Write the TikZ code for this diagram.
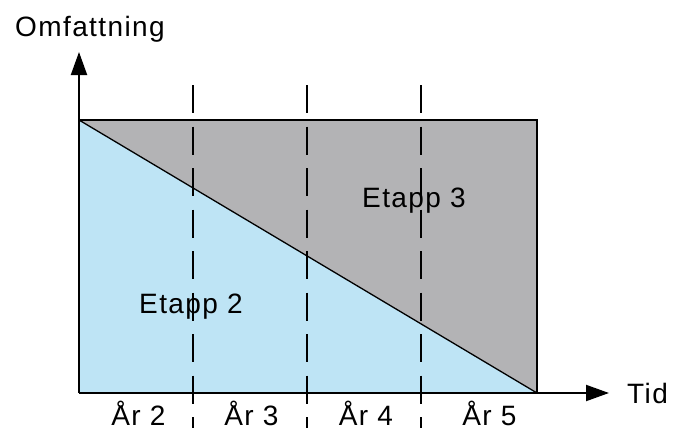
\documentclass[tikz,border=0pt]{standalone}
\usepackage{fontspec}
\setmainfont{Liberation Sans}[LetterSpace=5]
\usetikzlibrary{arrows.meta}
\definecolor{stageblue}{RGB}{190,228,245}
\definecolor{stagegray}{RGB}{179,179,181}
\tikzset{
  lbl/.style={inner sep=0pt, anchor=base, font=\fontsize{28}{31}\selectfont},
  axisline/.style={line width=2pt, -{Triangle[length=23pt,width=16pt]}},
  divider/.style={line width=2.6pt, dash pattern=on 28pt off 13.5pt},
}
\begin{document}
\begin{tikzpicture}[x=1pt,y=-1pt]
\useasboundingbox (0,0) rectangle (682,428);
\coordinate (TL) at (79,120);
\coordinate (TR) at (537,120);
\coordinate (BR) at (537,393);
\coordinate (O) at (79,393);
\coordinate (Ytip) at (79,52);
\coordinate (Xtip) at (609,393);
\fill[stageblue] (TL) -- (O) -- (BR) -- cycle;
\fill[stagegray] (TL) -- (TR) -- (BR) -- cycle;
\draw[line width=1.3pt] (TL) -- (BR);
\draw[line width=2pt] (TL) -- (TR) -- (BR);
\draw[axisline] (O) -- (Ytip);
\draw[axisline] (O) -- (Xtip);
\foreach \x/\n in {193/a,307/b,421/c}{
  \coordinate (d\n1) at (\x,85);
  \coordinate (d\n2) at (\x,428);
  \draw[divider] (d\n1) -- (d\n2);
}
\node[lbl, anchor=base west] (omf) at (15,36.5) {Omfattning};
\node[lbl, anchor=base west] (tid) at (627,403) {Tid};
\node[lbl] (e3) at (414,207) {Etapp 3};
\node[lbl] (e2) at (191,313) {Etapp 2};
\node[lbl] (y2) at (138.5,425) {År 2};
\node[lbl] (y3) at (251.5,425) {År 3};
\node[lbl] (y4) at (366,425) {År 4};
\node[lbl] (y5) at (489.5,425) {År 5};
\end{tikzpicture}
\end{document}
